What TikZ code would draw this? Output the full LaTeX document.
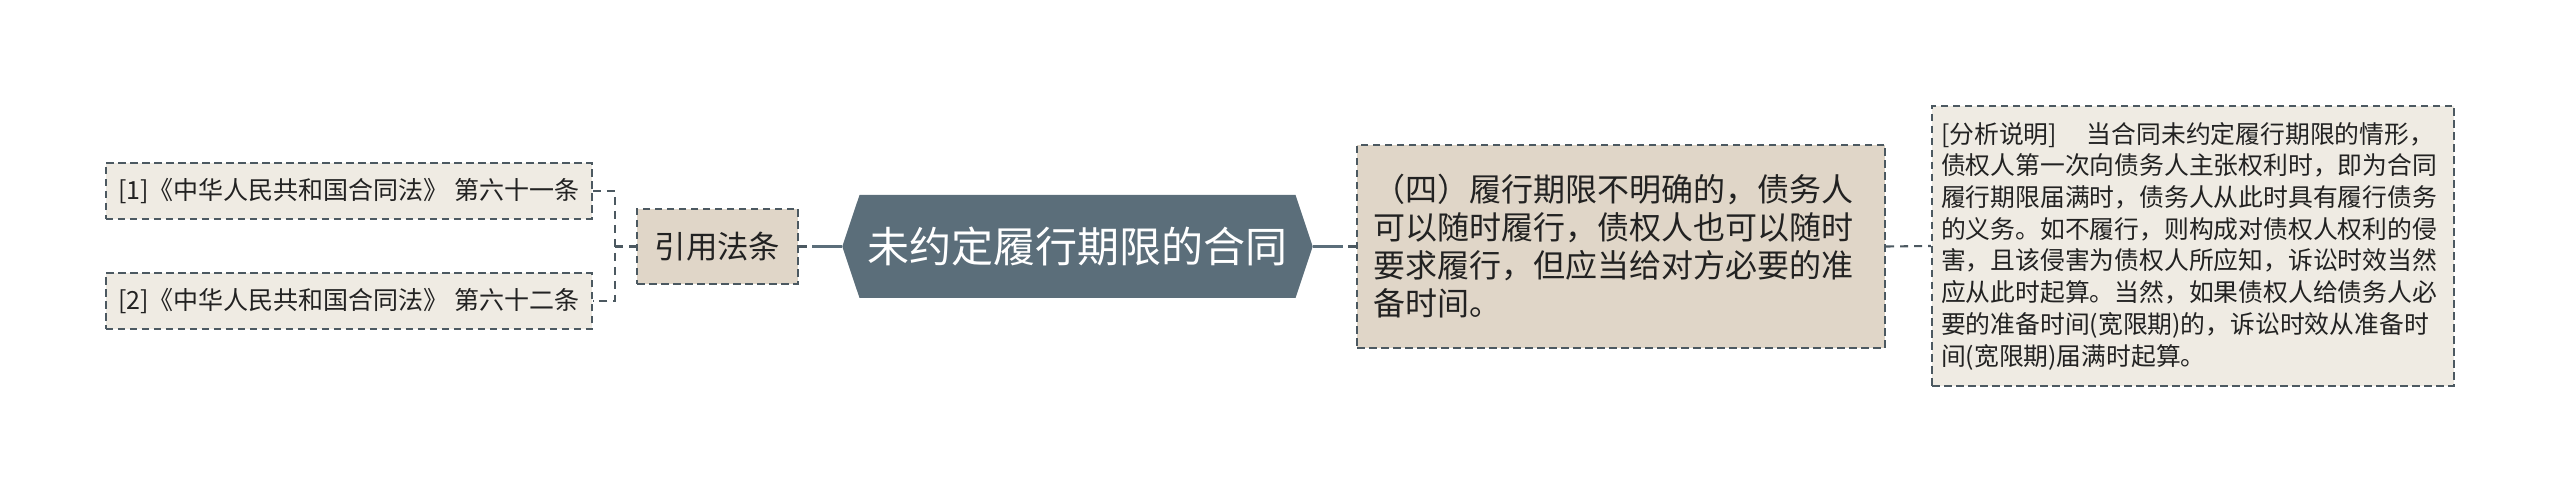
\documentclass[tikz,border=0pt]{standalone}
\usepackage{fontspec}
\setmainfont{Noto Sans CJK SC}
\usetikzlibrary{shapes.symbols}
\definecolor{slate}{HTML}{5B6E7A}
\definecolor{sand}{HTML}{E0D6C8}
\definecolor{paper}{HTML}{EFEBE3}
\definecolor{edge}{HTML}{4C5961}
\definecolor{ink}{HTML}{222222}
\begin{document}
\begin{tikzpicture}[x=1pt,y=1pt,
		box/.style={draw=edge,line width=2.1pt,dash pattern=on 7.5pt off 4.5pt,text=ink,inner ysep=0pt,align=left},
		lawbox/.style={box,fill=paper,minimum width=486pt,minimum height=56pt,font=\fontsize{25}{30}\selectfont},
		refbox/.style={box,fill=sand,minimum width=161pt,minimum height=75pt,font=\fontsize{31.4}{36}\selectfont},
		topic/.style={shape=signal,signal to=west and east,signal pointer angle=143,fill=slate,text=white,inner xsep=8pt,inner ysep=0pt,minimum height=103pt,font=\fontsize{42}{48}\selectfont},
		link/.style={draw=edge,line width=2.1pt,dash pattern=on 8pt off 6pt},
		trunk/.style={draw=slate,line width=3.5pt}]
		\useasboundingbox (0,0) rectangle (2560,493);
		\node[lawbox] (law1) at (348.8,302) {[1]《中华人民共和国合同法》 第六十一条};
		\node[lawbox] (law2) at (348.8,191.7) {[2]《中华人民共和国合同法》 第六十二条};
		\node[refbox] (ref) at (717.5,246.5) {引用法条};
		\node[topic] (topic) at (1077.5,246.5) {未约定履行期限的合同};
		\node[box,fill=sand,text width=496pt,inner xsep=16pt,minimum height=203pt,font=\fontsize{32}{38}\selectfont] (clause) at (1621,246.5) {（四）履行期限不明确的，债务人\\可以随时履行，债权人也可以随时\\要求履行，但应当给对方必要的准\\备时间。};
		\node[box,fill=paper,text width=504pt,inner xsep=9pt,minimum height=280pt,font=\fontsize{24.8}{31.7}\selectfont] (note) at (2193,247) {[分析说明]\hspace{30pt}当合同未约定履行期限的情形，\\债权人第一次向债务人主张权利时，即为合同\\履行期限届满时，债务人从此时具有履行债务\\的义务。如不履行，则构成对债权人权利的侵\\害，且该侵害为债权人所应知，诉讼时效当然\\应从此时起算。当然，如果债权人给债务人必\\要的准备时间(宽限期)的，诉讼时效从准备时\\间(宽限期)届满时起算。};
		\coordinate (fork) at (615,246.5);
		\coordinate (refjoin) at (812,246.5);
		\coordinate (clausejoin) at (1343,246.5);
		\draw[link] (law1.east) -| (fork) |- (law2.east);
		\draw[link] (fork) -- (ref.west);
		\draw[link] (ref.east) -- (refjoin);
		\draw[trunk] (refjoin) -- (topic.west);
		\draw[trunk] (topic.east) -- (clausejoin);
		\draw[link] (clause.west) -- (clausejoin);
		\draw[link] (clause.east) -- (note.west);
	\end{tikzpicture}
\end{document}
